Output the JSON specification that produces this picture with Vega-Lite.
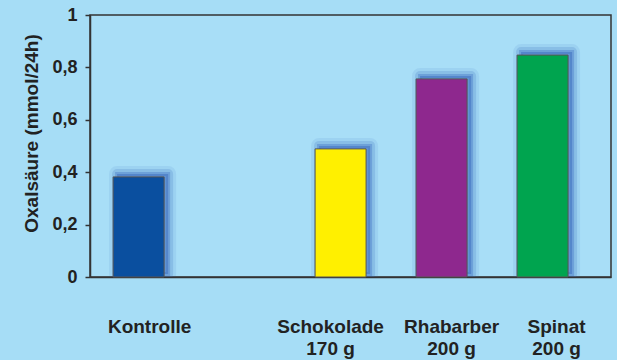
{
  "$schema": "https://vega.github.io/schema/vega-lite/v6.json",
  "autosize": "none",
  "width": 521,
  "height": 262,
  "padding": {"left": 90, "top": 15, "right": 6, "bottom": 83},
  "background": "#a6ddf6",
  "config": {
    "view": {"stroke": "#333333", "strokeWidth": 1.5, "fill": "#a8def7"},
    "font": "Liberation Sans"
  },
  "data": {
    "values": [
      {"kategorie": "Kontrolle", "wert": 0.382},
      {"kategorie": "Schokolade|170 g", "wert": 0.489},
      {"kategorie": "Rhabarber|200 g", "wert": 0.756},
      {"kategorie": "Spinat|200 g", "wert": 0.847}
    ]
  },
  "encoding": {
    "x": {
      "field": "kategorie",
      "type": "nominal",
      "sort": null,
      "scale": {
        "domain": ["Kontrolle", " ", "Schokolade|170 g", "Rhabarber|200 g", "Spinat|200 g"],
        "paddingInner": 0.495,
        "paddingOuter": 0.327,
        "align": 0.35
      },
      "axis": {
        "title": null,
        "labelAngle": 0,
        "labelExpr": "split(datum.label, '|')",
        "labelFont": "Liberation Sans",
        "labelFontWeight": "bold",
        "labelFontSize": 19,
        "labelColor": "#222222",
        "labelPadding": 40,
        "labelLineHeight": 22,
        "labelBaseline": "top",
        "labelOffset": {
          "condition": [
            {"test": "datum.value == 'Kontrolle'", "value": 11},
            {"test": "datum.value == 'Schokolade|170 g'", "value": -10},
            {"test": "datum.value == 'Rhabarber|200 g'", "value": 10},
            {"test": "datum.value == 'Spinat|200 g'", "value": 14}
          ],
          "value": 0
        },
        "ticks": false,
        "domainColor": "#333333",
        "domainWidth": 1.5
      }
    },
    "y": {
      "field": "wert",
      "type": "quantitative",
      "scale": {"domain": [0, 1], "nice": false},
      "axis": {
        "title": "Oxalsäure (mmol/24h)",
        "values": [0, 0.2, 0.4, 0.6, 0.8, 1],
        "labelExpr": "datum.value == 0 ? '0' : datum.value == 1 ? '1' : replace(format(datum.value, '.1f'), '.', ',')",
        "grid": false,
        "labelFont": "Liberation Sans",
        "labelFontWeight": "bold",
        "labelFontSize": 18,
        "labelColor": "#222222",
        "labelPadding": 8,
        "tickSize": 5,
        "tickColor": "#333333",
        "tickWidth": 1.5,
        "domainColor": "#333333",
        "domainWidth": 1.5,
        "titleFont": "Liberation Sans",
        "titleFontWeight": "bold",
        "titleFontSize": 19,
        "titleColor": "#222222",
        "titlePadding": 10,
        "titleY": 118
      }
    }
  },
  "layer": [
    {
      "mark": {"type": "bar", "clip": true, "fill": "#3d6cc0", "fillOpacity": 0.12, "stroke": "#3d6cc0", "strokeWidth": 16, "strokeOpacity": 0.1, "xOffset": 4, "yOffset": -3, "strokeJoin": "round"}
    },
    {
      "mark": {"type": "bar", "clip": true, "fill": "#3d6cc0", "fillOpacity": 0.2, "stroke": "#3d6cc0", "strokeWidth": 10, "strokeOpacity": 0.2, "xOffset": 4, "yOffset": -3, "strokeJoin": "round"}
    },
    {
      "mark": {"type": "bar", "clip": true, "fill": "#3d6cc0", "fillOpacity": 0.3, "stroke": "#3d6cc0", "strokeWidth": 4, "strokeOpacity": 0.35, "xOffset": 4, "yOffset": -3}
    },
    {
      "mark": {"type": "bar", "stroke": "#555555", "strokeWidth": 1},
      "encoding": {
        "color": {
          "field": "kategorie",
          "type": "nominal",
          "scale": {
            "domain": ["Kontrolle", "Schokolade|170 g", "Rhabarber|200 g", "Spinat|200 g"],
            "range": ["#0a4f9f", "#fff000", "#8e288e", "#00a44f"]
          },
          "legend": null
        }
      }
    }
  ]
}
